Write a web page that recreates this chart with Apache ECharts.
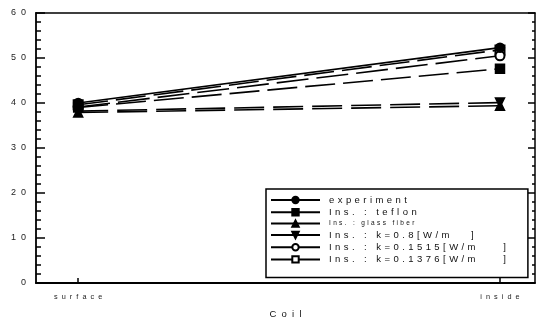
<!DOCTYPE html>
<html>
<head>
<meta charset="utf-8">
<script src="https://cdn.jsdelivr.net/npm/echarts@6/dist/echarts.min.js"></script>
<style>
  html, body { margin: 0; padding: 0; background: #fff; }
  #chart { width: 540px; height: 324px; }
</style>
</head>
<body>
<div id="chart"></div>
<script>
// Coil positions along the x axis
const categories = ['surface', 'inside'];
const yTicks = [0, 10, 20, 30, 40, 50, 60];

// Series names as they appear in the legend
const seriesNames = [
  'experiment',
  'Ins. : teflon',
  'Ins. : glass fiber',
  'Ins. : k=0.8[W/m   ]',
  'Ins. : k=0.1515[W/m    ]',
  'Ins. : k=0.1376[W/m    ]'
];

// Values at surface, inside
const experiment = [40.0, 52.3];
const teflon     = [39.0, 47.6];
const glassFiber = [37.9, 39.4];
const k08        = [38.2, 40.1];
const k01515     = [39.1, 50.5];
const k01376     = [39.6, 51.8];

const seriesValues = [experiment, teflon, glassFiber, k08, k01515, k01376];
const symbols = ['circle', 'rect', 'triangle', 'triangle', 'emptyCircle', 'emptyRect'];
const rotations = [0, 0, 0, 180, 0, 0];
const dashes = ['solid', [30, 8], [30, 9], [30, 9], [32, 8], [30, 8]];

const FONT = '"Liberation Sans", Arial, sans-serif';
// wide character spacing used throughout the figure
const spaced = (s, gap) => String(s).split('').join(gap || ' \u200A');

const series = seriesNames.map((name, i) => ({
  name: name,
  type: 'line',
  data: seriesValues[i].map((v, j) => [j, v]),
  symbol: symbols[i],
  symbolRotate: rotations[i],
  symbolSize: 9,
  itemStyle: { color: '#000', borderColor: '#000', borderWidth: 1.5 },
  lineStyle: { color: '#000', width: 1.6, type: dashes[i] },
  z: 10 - i
}));

const chart = echarts.init(document.getElementById('chart'), null, { renderer: 'canvas' });

chart.setOption({
  animation: false,
  backgroundColor: '#fff',
  grid: { left: 36, right: 5, top: 13, bottom: 37 },
  legend: {
    orient: 'vertical',
    left: 266,
    top: 189,
    data: seriesNames.map((n, i) => ({
      name: n,
      textStyle: i === 2 ? { fontSize: 6.5 } : {}
    })),
    formatter: n => spaced(n),
    itemWidth: 49,
    itemHeight: 8,
    itemGap: 2.2,
    padding: [6, 22, 13, 4],
    borderColor: '#000',
    borderWidth: 1.5,
    lineStyle: { type: 'solid', width: 2 },
    textStyle: { fontFamily: FONT, fontSize: 9.5, lineHeight: 8, color: '#111', padding: [0, 0, 0, 4] },
    inactiveColor: '#000'
  },
  xAxis: [{
    type: 'value',
    min: -0.1,
    max: 1.083,
    name: spaced('Coil', '  '),
    nameLocation: 'middle',
    nameGap: 26,
    nameTextStyle: { fontFamily: FONT, fontSize: 9.5, color: '#111' },
    axisLine: { show: true, onZero: false, lineStyle: { color: '#000', width: 1.8 } },
    axisTick: { show: true, inside: true, length: 5, customValues: [0, 1], lineStyle: { color: '#000', width: 1.5 } },
    axisLabel: {
      customValues: [0, 1],
      formatter: v => spaced(categories[Math.round(v)], '  '),
      fontFamily: FONT, fontSize: 7.3, color: '#222', margin: 10
    },
    splitLine: { show: false }
  }, {
    type: 'value',
    position: 'top',
    min: -0.1,
    max: 1.083,
    axisLine: { show: true, onZero: false, lineStyle: { color: '#000', width: 1.5 } },
    axisTick: { show: false },
    axisLabel: { show: false },
    splitLine: { show: false }
  }],
  yAxis: [{
    type: 'value',
    min: yTicks[0],
    max: yTicks[yTicks.length - 1],
    interval: 10,
    axisLine: { show: true, onZero: false, lineStyle: { color: '#000', width: 1.8 } },
    axisTick: { show: true, inside: true, length: 9, lineStyle: { color: '#000', width: 1.5 } },
    minorTick: { show: true, splitNumber: 5, length: 5, lineStyle: { color: '#000', width: 1.5 } },
    axisLabel: { formatter: v => spaced(v, '  '), fontFamily: FONT, fontSize: 9, color: '#222', margin: 10 },
    splitLine: { show: false }
  }, {
    type: 'value',
    position: 'right',
    min: yTicks[0],
    max: yTicks[yTicks.length - 1],
    interval: 10,
    axisLine: { show: true, onZero: false, lineStyle: { color: '#000', width: 1.5 } },
    axisTick: { show: true, inside: true, length: 7, lineStyle: { color: '#000', width: 1.5 } },
    minorTick: { show: true, splitNumber: 5, length: 3, lineStyle: { color: '#000', width: 1.5 } },
    axisLabel: { show: false },
    splitLine: { show: false }
  }],
  series: series
});
</script>
</body>
</html>
